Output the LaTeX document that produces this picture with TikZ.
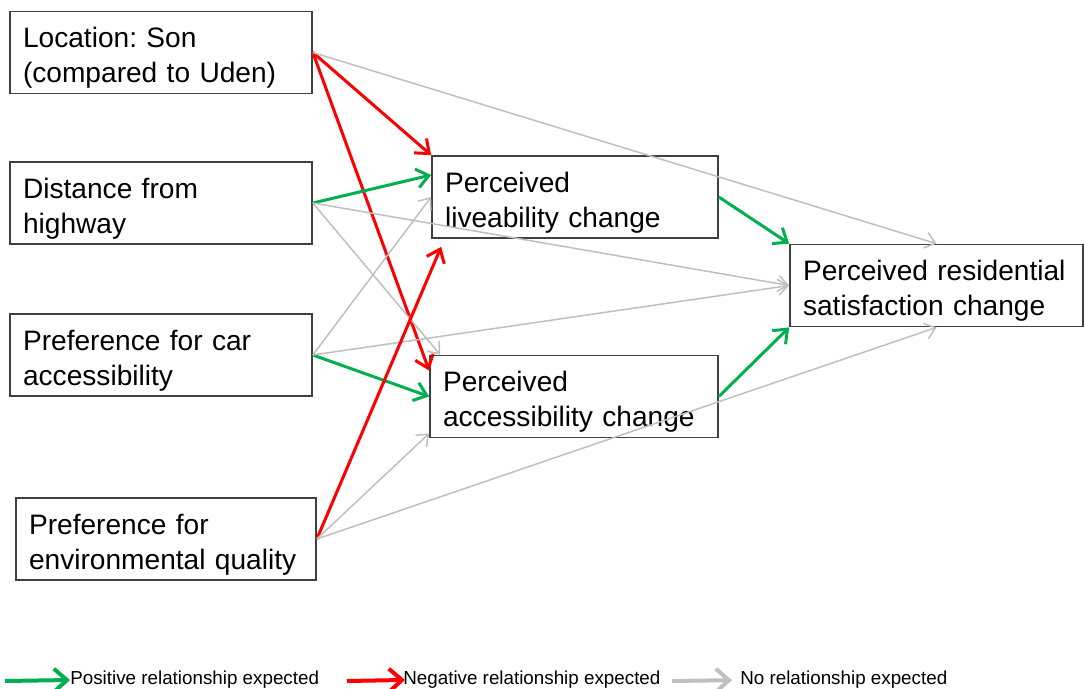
\documentclass[tikz,border=0pt]{standalone}
\usepackage{fontspec}
\setmainfont{Liberation Sans}
\usetikzlibrary{arrows.meta}
\frenchspacing
\definecolor{posgreen}{RGB}{0,176,80}
\definecolor{negred}{RGB}{255,0,0}
\definecolor{nilgray}{RGB}{191,191,191}
\definecolor{boxline}{RGB}{64,64,64}
\tikzset{
x=0.02cm, y=-0.02cm, % one unit is one pixel of the sketch, y runs downwards
factor/.style={draw=boxline, line width=0.35mm, align=left, inner xsep=2.6mm, inner ysep=0.5mm, minimum height=16.4mm, font=\fontsize{16}{19.9}\selectfont, execute at begin node={\rule{0pt}{6.3mm}}}, % the boxes of the model
posarrow/.style={draw=posgreen, line width=0.6mm, -{Straight Barb[length=2.4mm,width=3.8mm]}}, % positive relationship
negarrow/.style={draw=negred, line width=0.6mm, -{Straight Barb[length=2.4mm,width=3.8mm]}}, % negative relationship
nilarrow/.style={draw=nilgray, line width=0.3mm, -{Straight Barb[length=2mm,width=3.2mm]}}, % no relationship
legend/.style={line width=0.8mm, -{Straight Barb[length=2.6mm,width=4.6mm]}}, % arrows of the key
legendtext/.style={anchor=west, inner sep=0pt, font=\fontsize{10.7}{13}\selectfont}, % texts of the key
}
\begin{document}
\begin{tikzpicture}
    \useasboundingbox (0,0) rectangle (1085,689);
    \node[factor, text width=5.52cm] (loc) at (161,52.5) {Location: Son\\(compared to Uden)};
    \node[factor, text width=5.52cm] (dist) at (161,203) {Distance from\\highway};
    \node[factor, text width=5.52cm] (car) at (161,355) {Preference for car\\accessibility};
    \node[factor, text width=5.48cm] (env) at (166,539) {Preference for\\environmental quality};
    \node[factor, text width=5.2cm] (liv) at (575,197) {Perceived\\liveability change};
    \node[factor, text width=5.24cm] (acc) at (574,396.5) {Perceived\\accessibility change};
    \node[factor, text width=5.34cm] (sat) at (936.5,285.5) {Perceived residential\\satisfaction change};
    % location
    \draw (loc.east) edge[negarrow] (liv.north west)
    (loc.east) edge[negarrow] ([yshift=-3.2mm]acc.north west)
    (loc.east) edge[nilarrow] (sat.north);
    % distance
    \draw (dist.east) edge[posarrow] ([yshift=4.4mm]liv.west)
    (dist.east) edge[nilarrow] ([xshift=2.2mm]acc.north west)
    (dist.east) edge[nilarrow] (sat.west);
    % car
    \draw (car.east) edge[nilarrow] (liv.west)
    (car.east) edge[posarrow] (acc.west)
    (car.east) edge[nilarrow] (sat.west);
    % environment
    \draw (env.east) edge[negarrow] ([xshift=2mm,yshift=-1.6mm]liv.south west)
    (env.east) edge[nilarrow] ([yshift=1mm]acc.south west)
    (env.east) edge[nilarrow] (sat.south);
    % mediators
    \draw (liv.east) edge[posarrow] (sat.north west)
    (acc.east) edge[posarrow] (sat.south west);
    % key
    \coordinate (gstart) at (5,681);
    \coordinate (rstart) at (347,681);
    \coordinate (nstart) at (672,681);
    \node[legendtext] (gtext) at (70,680) {Positive relationship expected};
    \node[legendtext] (rtext) at (403,680) {Negative relationship expected};
    \node[legendtext] (ntext) at (740,680) {No relationship expected};
    \draw[legend, posgreen] (gstart) -- (gtext.west);
    \draw[legend, negred, shorten >=-0.4mm] (rstart) -- (rtext.west);
    \draw[legend, nilgray, shorten >=1.6mm] (nstart) -- (ntext.west);
\end{tikzpicture}
\end{document}
